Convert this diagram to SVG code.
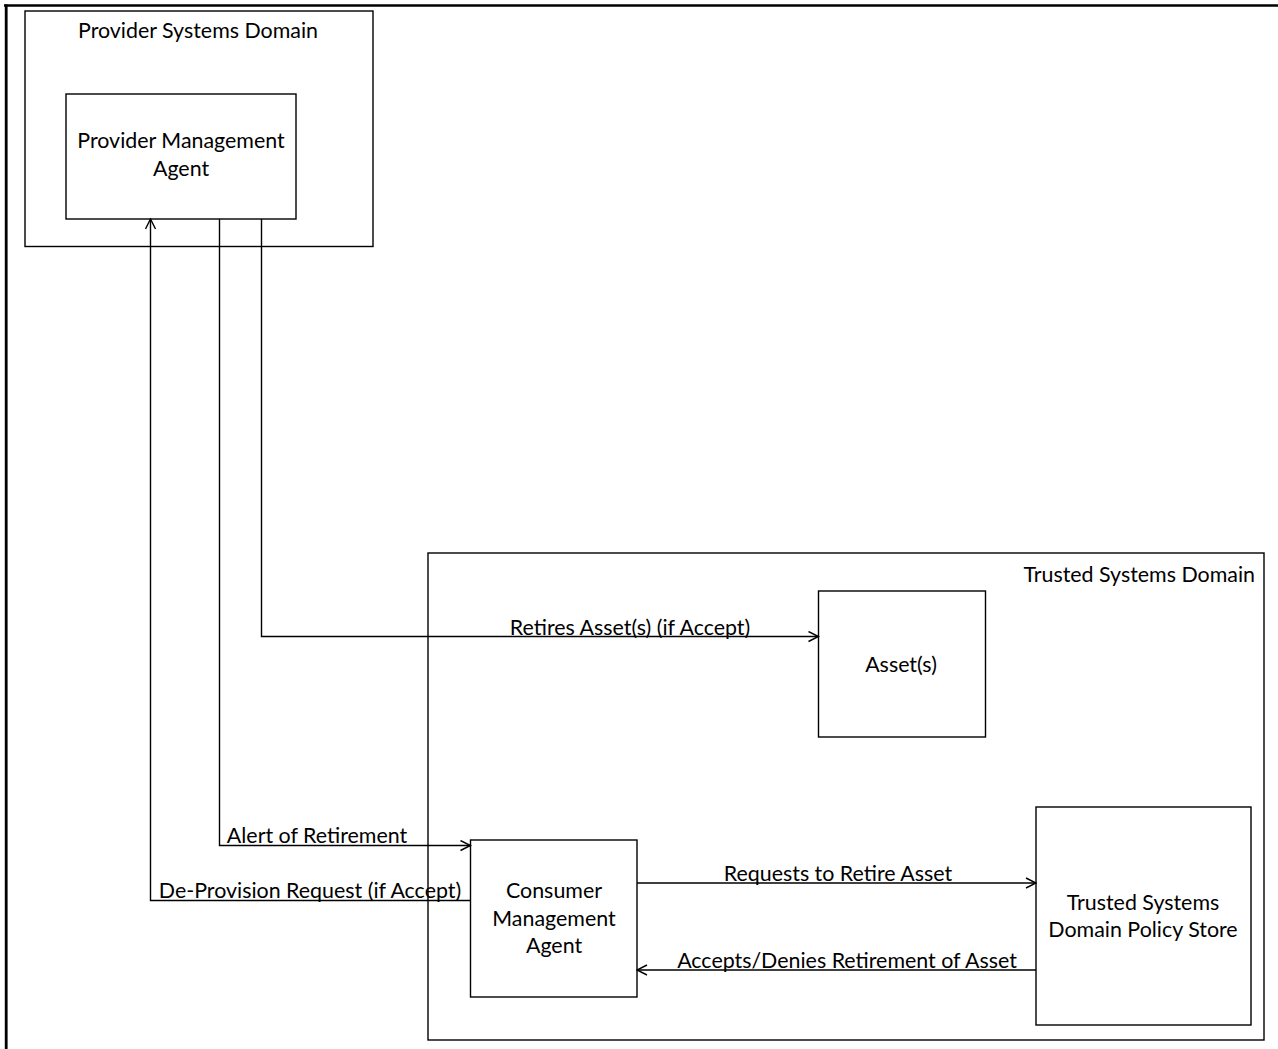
<svg xmlns="http://www.w3.org/2000/svg" width="1278" height="1049" viewBox="0 0 1278 1049">
  <style>
    .box { fill: #ffffff; stroke: #000000; stroke-width: 1.4; }
    .wire { fill: none; stroke: #000000; stroke-width: 1.4; }
    .label { font-family: "Lato", "Liberation Sans", sans-serif; font-size: 21.4px; fill: #000000; }
    .mid { text-anchor: middle; }
    .end { text-anchor: end; }
  </style>
  <defs>
    <marker id="arrow" viewBox="0 0 12 12" refX="11" refY="6" markerWidth="12" markerHeight="12" markerUnits="userSpaceOnUse" orient="auto">
      <path d="M1,1 L11,6 L1,11" fill="none" stroke="#000000" stroke-width="1.4"/>
    </marker>
  </defs>

  <rect width="1278" height="1049" fill="#ffffff"/>

  <!-- page frame -->
  <g id="frame">
    <line x1="4" y1="5.5" x2="1278" y2="5.5" stroke="#000000" stroke-width="2.4"/>
    <line x1="6.2" y1="4.5" x2="6.2" y2="1049" stroke="#000000" stroke-width="2.8"/>
  </g>

  <!-- domains -->
  <g id="provider-domain">
    <rect class="box" x="25" y="11" width="348" height="235.5"/>
    <text class="label mid" x="198" y="38">Provider Systems Domain</text>
  </g>
  <g id="trusted-domain">
    <rect class="box" x="428" y="553" width="836" height="487"/>
    <text class="label end" x="1255" y="582">Trusted Systems Domain</text>
  </g>

  <!-- nodes -->
  <g id="provider-agent">
    <rect class="box" x="66" y="94" width="230" height="125"/>
    <text class="label mid" x="181" y="148">Provider Management</text>
    <text class="label mid" x="181" y="176">Agent</text>
  </g>
  <g id="assets">
    <rect class="box" x="818.5" y="591" width="167" height="146"/>
    <text class="label mid" x="901" y="672">Asset(s)</text>
  </g>
  <g id="consumer-agent">
    <rect class="box" x="470.5" y="840" width="166.5" height="157"/>
    <text class="label mid" x="554" y="898">Consumer</text>
    <text class="label mid" x="554" y="926">Management</text>
    <text class="label mid" x="554" y="953">Agent</text>
  </g>
  <g id="policy-store">
    <rect class="box" x="1036" y="807" width="215" height="218"/>
    <text class="label mid" x="1143" y="910">Trusted Systems</text>
    <text class="label mid" x="1143" y="937">Domain Policy Store</text>
  </g>

  <!-- connectors -->
  <g id="connectors">
    <polyline class="wire" points="261.5,219 261.5,636.5 818.5,636.5" marker-end="url(#arrow)"/>
    <polyline class="wire" points="219.5,219 219.5,845.5 470.5,845.5" marker-end="url(#arrow)"/>
    <polyline class="wire" points="470.5,900.5 150.5,900.5 150.5,219" marker-end="url(#arrow)"/>
    <line class="wire" x1="637" y1="883" x2="1036" y2="883" marker-end="url(#arrow)"/>
    <line class="wire" x1="1036" y1="970" x2="637" y2="970" marker-end="url(#arrow)"/>
  </g>

  <!-- connector labels -->
  <g id="connector-labels">
    <text class="label mid" x="630" y="635">Retires Asset(s) (if Accept)</text>
    <text class="label mid" x="317" y="843">Alert of Retirement</text>
    <text class="label mid" x="310" y="898">De-Provision Request (if Accept)</text>
    <text class="label mid" x="838" y="881">Requests to Retire Asset</text>
    <text class="label mid" x="847" y="968">Accepts/Denies Retirement of Asset</text>
  </g>
</svg>
